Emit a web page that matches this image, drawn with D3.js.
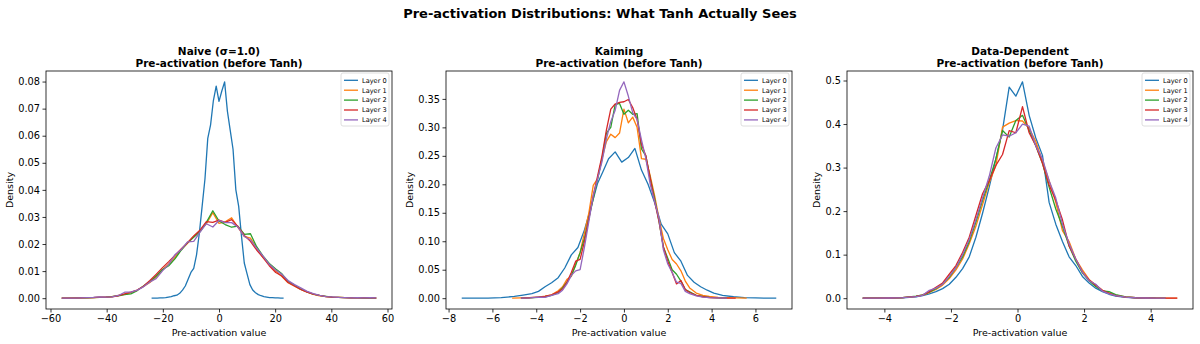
<!DOCTYPE html>
<html>
<head>
<meta charset="utf-8">
<script src="https://cdn.jsdelivr.net/npm/d3@7"></script>
<style>
body { margin: 0; background: #fff; }
text { font-family: "DejaVu Sans", sans-serif; }
</style>
</head>
<body>
<div id="chart"></div>
<script>
var layerNames = ["Layer 0", "Layer 1", "Layer 2", "Layer 3", "Layer 4"];
var layerColors = ["#1f77b4", "#ff7f0e", "#2ca02c", "#d62728", "#9467bd"];

// Naive (sigma=1.0): layer 0 is narrow, deeper layers spread out
var naiveX0 = [-24, -23, -22, -21, -20, -19, -18, -17, -16, -15, -14, -13, -12, -11, -10, -9, -8, -7, -6, -5, -4, -3, -2, -1,
  0, 1, 2, 3, 4, 5, 6, 7, 8, 9, 10, 11, 12, 13, 14, 15, 16, 17, 18, 19, 20, 21, 22, 23];
var naiveL0 = [0.0000, 0.0000, 0.0000, 0.0001, 0.0001, 0.0002, 0.0004, 0.0006, 0.0009, 0.0011, 0.0018, 0.0030, 0.0045, 0.0070, 0.0095, 0.0110, 0.0160, 0.0240, 0.0340, 0.0440, 0.0590, 0.0640, 0.0730, 0.0783,
  0.0727, 0.0765, 0.0799, 0.0690, 0.0620, 0.0550, 0.0400, 0.0340, 0.0230, 0.0130, 0.0090, 0.0050, 0.0030, 0.0020, 0.0013, 0.0009, 0.0006, 0.0004, 0.0002, 0.0002, 0.0001, 0.0001, 0.0000, 0.0000];
var naiveX = [-56, -53.8, -51.5, -49.3, -47, -44.8, -42.6, -40.3, -38.1, -35.8, -33.6, -31.4, -29.1, -26.9, -24.6, -22.4, -20.2, -17.9, -15.7, -13.4, -11.2, -9, -6.7, -4.5, -2.2,
  0, 2.2, 4.5, 6.7, 9, 11.2, 13.4, 15.7, 17.9, 20.2, 22.4, 24.6, 26.9, 29.1, 31.4, 33.6, 35.8, 38.1, 40.3, 42.6, 44.8, 47, 49.3, 51.5, 53.8, 56];
var naiveL1 = [0.0000, 0.0000, 0.0001, 0.0001, 0.0001, 0.0002, 0.0003, 0.0004, 0.0006, 0.0010, 0.0014, 0.0020, 0.0030, 0.0043, 0.0058, 0.0078, 0.0104, 0.0126, 0.0150, 0.0180, 0.0203, 0.0228, 0.0250, 0.0275, 0.0316,
  0.0276, 0.0282, 0.0297, 0.0262, 0.0228, 0.0222, 0.0185, 0.0150, 0.0125, 0.0100, 0.0080, 0.0057, 0.0044, 0.0032, 0.0022, 0.0014, 0.0009, 0.0006, 0.0004, 0.0003, 0.0002, 0.0001, 0.0001, 0.0001, 0.0000, 0.0000];
var naiveL2 = [0.0000, 0.0000, 0.0000, 0.0001, 0.0001, 0.0002, 0.0003, 0.0004, 0.0006, 0.0009, 0.0013, 0.0016, 0.0028, 0.0045, 0.0062, 0.0082, 0.0105, 0.0120, 0.0145, 0.0178, 0.0205, 0.0225, 0.0246, 0.0280, 0.0323,
  0.0285, 0.0272, 0.0262, 0.0266, 0.0236, 0.0238, 0.0190, 0.0155, 0.0128, 0.0108, 0.0090, 0.0062, 0.0048, 0.0033, 0.0023, 0.0015, 0.0010, 0.0007, 0.0004, 0.0003, 0.0002, 0.0001, 0.0001, 0.0000, 0.0001, 0.0000];
var naiveL3 = [0.0000, 0.0000, 0.0000, 0.0001, 0.0002, 0.0002, 0.0004, 0.0004, 0.0005, 0.0009, 0.0016, 0.0022, 0.0030, 0.0044, 0.0065, 0.0088, 0.0112, 0.0135, 0.0158, 0.0183, 0.0205, 0.0230, 0.0252, 0.0283, 0.0280,
  0.0288, 0.0280, 0.0290, 0.0265, 0.0232, 0.0210, 0.0178, 0.0150, 0.0120, 0.0095, 0.0082, 0.0058, 0.0045, 0.0032, 0.0022, 0.0015, 0.0010, 0.0006, 0.0004, 0.0003, 0.0002, 0.0001, 0.0001, 0.0001, 0.0002, 0.0000];
var naiveL4 = [0.0000, 0.0000, 0.0000, 0.0001, 0.0002, 0.0003, 0.0005, 0.0004, 0.0005, 0.0010, 0.0022, 0.0022, 0.0030, 0.0042, 0.0060, 0.0072, 0.0100, 0.0125, 0.0160, 0.0180, 0.0208, 0.0210, 0.0245, 0.0275, 0.0263,
  0.0287, 0.0279, 0.0279, 0.0263, 0.0228, 0.0215, 0.0185, 0.0155, 0.0125, 0.0104, 0.0088, 0.0065, 0.0050, 0.0038, 0.0025, 0.0017, 0.0010, 0.0006, 0.0005, 0.0003, 0.0002, 0.0001, 0.0002, 0.0001, 0.0002, 0.0001];

// Kaiming
var kaimingX0 = [-7.4, -6.8, -6.2, -5.6, -5.0, -4.6, -4.2, -3.9, -3.6, -3.3, -3.0, -2.7, -2.4, -2.1, -1.8, -1.5, -1.2, -0.95, -0.7, -0.4, -0.1,
  0.2, 0.5, 0.8, 1.1, 1.4, 1.7, 2.0, 2.3, 2.6, 2.9, 3.2, 3.5, 3.8, 4.1, 4.5, 5.0, 5.5, 6.0, 6.5, 6.95];
var kaimingL0 = [0.0000, 0.0001, 0.0002, 0.0010, 0.0030, 0.0055, 0.0080, 0.0120, 0.0200, 0.0270, 0.0360, 0.0530, 0.0760, 0.0890, 0.1200, 0.1600, 0.2020, 0.2230, 0.2450, 0.2570, 0.2390,
  0.2470, 0.2630, 0.2250, 0.2000, 0.1680, 0.1300, 0.1130, 0.0800, 0.0650, 0.0400, 0.0280, 0.0200, 0.0140, 0.0090, 0.0050, 0.0025, 0.0010, 0.0004, 0.0001, 0.0000];
var kaimingX = [-5.1, -4.7, -4.3, -3.9, -3.6, -3.3, -3.0, -2.8, -2.6, -2.4, -2.2, -2.0, -1.8, -1.6, -1.4, -1.2, -1.0, -0.8, -0.6, -0.4, -0.2,
  0.0, 0.2, 0.4, 0.6, 0.8, 1.0, 1.2, 1.4, 1.6, 1.8, 2.0, 2.2, 2.4, 2.6, 2.8, 3.0, 3.3, 3.6, 3.9, 4.3, 4.7, 5.1, 5.6];
var kaimingL1 = [0.0000, 0.0005, 0.0010, 0.0020, 0.0035, 0.0060, 0.0130, 0.0200, 0.0330, 0.0380, 0.0600, 0.0800, 0.1150, 0.1500, 0.1980, 0.2100, 0.2450, 0.2750, 0.2880, 0.2820, 0.2900,
  0.3320, 0.3080, 0.3180, 0.3000, 0.2450, 0.2440, 0.2150, 0.1800, 0.1400, 0.1050, 0.0850, 0.0680, 0.0600, 0.0480, 0.0300, 0.0180, 0.0090, 0.0050, 0.0030, 0.0015, 0.0008, 0.0004, 0.0000];
var kaimingL2 = [null, 0.0000, 0.0005, 0.0015, 0.0025, 0.0050, 0.0100, 0.0180, 0.0280, 0.0400, 0.0580, 0.0800, 0.1050, 0.1400, 0.1750, 0.2100, 0.2450, 0.2900, 0.3000, 0.3400, 0.3420,
  0.3230, 0.3300, 0.3230, 0.3240, 0.2620, 0.2500, 0.2100, 0.1750, 0.1350, 0.0900, 0.0700, 0.0500, 0.0420, 0.0300, 0.0150, 0.0110, 0.0050, 0.0030, 0.0015, 0.0005, 0.0000, null, null];
var kaimingL3 = [null, 0.0000, 0.0008, 0.0020, 0.0030, 0.0060, 0.0110, 0.0160, 0.0280, 0.0450, 0.0650, 0.0680, 0.1000, 0.1400, 0.1800, 0.2150, 0.2500, 0.2950, 0.3320, 0.3410, 0.3440,
  0.3450, 0.3490, 0.3350, 0.3140, 0.2700, 0.2500, 0.2100, 0.1700, 0.1350, 0.0900, 0.0650, 0.0450, 0.0250, 0.0310, 0.0150, 0.0100, 0.0050, 0.0025, 0.0012, 0.0005, 0.0002, 0.0000, null];
var kaimingL4 = [null, 0.0000, 0.0005, 0.0020, 0.0015, 0.0050, 0.0080, 0.0140, 0.0250, 0.0400, 0.0480, 0.0500, 0.0900, 0.1350, 0.1800, 0.2100, 0.2400, 0.2800, 0.3100, 0.3300, 0.3650,
  0.3800, 0.3550, 0.3260, 0.3140, 0.2780, 0.2450, 0.2000, 0.1700, 0.1400, 0.0850, 0.0600, 0.0450, 0.0280, 0.0260, 0.0120, 0.0080, 0.0040, 0.0020, 0.0010, 0.0004, 0.0001, null, null];

// Data-dependent
var dataDepX = [-4.65, -4.25, -3.85, -3.45, -3.05, -2.85, -2.65, -2.45, -2.25, -2.05, -1.85, -1.65, -1.45, -1.25, -1.05, -0.85, -0.65, -0.45, -0.25, -0.05,
  0.15, 0.35, 0.55, 0.75, 0.95, 1.15, 1.35, 1.55, 1.75, 1.95, 2.15, 2.35, 2.55, 2.75, 2.95, 3.25, 3.55, 3.85, 4.15, 4.45, 4.8];
var dataDepL0 = [0.0000, 0.0001, 0.0003, 0.0008, 0.0030, 0.0060, 0.0100, 0.0150, 0.0220, 0.0320, 0.0480, 0.0680, 0.0950, 0.1400, 0.1950, 0.2550, 0.3200, 0.3860, 0.4850, 0.4640,
  0.4970, 0.4200, 0.3680, 0.3280, 0.2200, 0.1700, 0.1300, 0.0950, 0.0750, 0.0500, 0.0350, 0.0230, 0.0150, 0.0090, 0.0050, 0.0020, 0.0008, 0.0003, 0.0000, null, null];
var dataDepL1 = [0.0000, 0.0002, 0.0005, 0.0015, 0.0040, 0.0070, 0.0130, 0.0200, 0.0300, 0.0450, 0.0650, 0.0900, 0.1250, 0.1650, 0.2150, 0.2650, 0.3050, 0.3930, 0.4020, 0.4080,
  0.4070, 0.3900, 0.3600, 0.3150, 0.2700, 0.2200, 0.1550, 0.1300, 0.0900, 0.0650, 0.0430, 0.0300, 0.0180, 0.0120, 0.0070, 0.0030, 0.0012, 0.0005, 0.0002, 0.0001, 0.0000];
var dataDepL2 = [0.0000, 0.0002, 0.0005, 0.0015, 0.0045, 0.0075, 0.0140, 0.0220, 0.0330, 0.0480, 0.0700, 0.0950, 0.1300, 0.1750, 0.2250, 0.2700, 0.3200, 0.3850, 0.3700, 0.4080,
  0.4200, 0.3850, 0.3500, 0.3100, 0.2550, 0.2050, 0.1650, 0.1200, 0.0850, 0.0580, 0.0400, 0.0270, 0.0170, 0.0150, 0.0080, 0.0030, 0.0010, 0.0004, 0.0001, 0.0000, null];
var dataDepL3 = [0.0000, 0.0001, 0.0004, 0.0012, 0.0040, 0.0070, 0.0150, 0.0250, 0.0350, 0.0550, 0.0750, 0.1050, 0.1400, 0.1900, 0.2400, 0.2700, 0.3050, 0.3300, 0.3850, 0.3800,
  0.4400, 0.3800, 0.3500, 0.3100, 0.2600, 0.2250, 0.1800, 0.1200, 0.0900, 0.0600, 0.0420, 0.0300, 0.0180, 0.0110, 0.0060, 0.0025, 0.0010, 0.0004, 0.0002, 0.0001, 0.0000];
var dataDepL4 = [0.0000, 0.0001, 0.0004, 0.0012, 0.0035, 0.0065, 0.0180, 0.0230, 0.0320, 0.0500, 0.0700, 0.1000, 0.1350, 0.1800, 0.2300, 0.2800, 0.3450, 0.3750, 0.3720, 0.3800,
  0.4000, 0.3950, 0.3500, 0.3200, 0.2700, 0.2300, 0.1700, 0.1250, 0.0900, 0.0600, 0.0400, 0.0320, 0.0160, 0.0100, 0.0060, 0.0025, 0.0010, 0.0004, 0.0001, 0.0000, null];

// tick values
var naiveXTicks = [-60, -40, -20, 0, 20, 40, 60];
var naiveYTicks = [0, 0.01, 0.02, 0.03, 0.04, 0.05, 0.06, 0.07, 0.08];
var kaimingXTicks = [-8, -6, -4, -2, 0, 2, 4, 6];
var kaimingYTicks = [0, 0.05, 0.10, 0.15, 0.20, 0.25, 0.30, 0.35];
var dataDepXTicks = [-4, -2, 0, 2, 4];
var dataDepYTicks = [0, 0.1, 0.2, 0.3, 0.4, 0.5];

var panels = [
  { title: ["Naive (σ=1.0)", "Pre-activation (before Tanh)"], xTicks: naiveXTicks, yTicks: naiveYTicks, yFmt: ".2f",
    series: [[naiveX0, naiveL0], [naiveX, naiveL1], [naiveX, naiveL2], [naiveX, naiveL3], [naiveX, naiveL4]] },
  { title: ["Kaiming", "Pre-activation (before Tanh)"], xTicks: kaimingXTicks, yTicks: kaimingYTicks, yFmt: ".2f",
    series: [[kaimingX0, kaimingL0], [kaimingX, kaimingL1], [kaimingX, kaimingL2], [kaimingX, kaimingL3], [kaimingX, kaimingL4]] },
  { title: ["Data-Dependent", "Pre-activation (before Tanh)"], xTicks: dataDepXTicks, yTicks: dataDepYTicks, yFmt: ".1f",
    series: [[dataDepX, dataDepL0], [dataDepX, dataDepL1], [dataDepX, dataDepL2], [dataDepX, dataDepL3], [dataDepX, dataDepL4]] }
];

var W = 1200, H = 344;
var axLeft = [46, 446, 847], axW = 346, axTop = 71, axH = 238;

var svg = d3.select("#chart").append("svg")
  .attr("width", W)
  .attr("height", H);

svg.append("text")
  .attr("x", W / 2)
  .attr("y", 18)
  .attr("text-anchor", "middle")
  .attr("font-size", 13)
  .attr("font-weight", "bold")
  .text("Pre-activation Distributions: What Tanh Actually Sees");

panels.forEach(function(p, i) {
  var g = svg.append("g")
    .attr("transform", "translate(" + axLeft[i] + "," + axTop + ")");

  // series as point lists, gaps where a layer has no bin
  var lines = p.series.map(function(s) {
    return s[0].map(function(xv, j) { return [xv, s[1][j]]; });
  });
  var pts = d3.merge(lines).filter(function(d) { return d[1] != null; });
  var xe = d3.extent(pts, function(d) { return d[0]; });
  var ye = d3.extent(pts, function(d) { return d[1]; });
  var xPad = (xe[1] - xe[0]) * 0.05, yPad = (ye[1] - ye[0]) * 0.05;

  var x = d3.scaleLinear().domain([xe[0] - xPad, xe[1] + xPad]).range([0, axW]);
  var y = d3.scaleLinear().domain([ye[0] - yPad, ye[1] + yPad]).range([axH, 0]);

  var xAxis = g.append("g")
    .attr("transform", "translate(0," + axH + ")")
    .call(d3.axisBottom(x).tickValues(p.xTicks).tickFormat(d3.format("d")).tickSize(3.5).tickPadding(2.5));
  var yAxis = g.append("g")
    .call(d3.axisLeft(y).tickValues(p.yTicks).tickFormat(d3.format(p.yFmt)).tickSize(3.5).tickPadding(2.5));
  [xAxis, yAxis].forEach(function(a) {
    a.select(".domain").remove();
    a.selectAll("line").attr("stroke", "#000").attr("stroke-width", 0.8);
    a.selectAll("text").attr("fill", "#000").attr("font-size", 9.8)
      .attr("font-family", "DejaVu Sans, sans-serif");
  });

  var line = d3.line()
    .defined(function(d) { return d[1] != null; })
    .x(function(d) { return x(d[0]); })
    .y(function(d) { return y(d[1]); });

  g.selectAll(".layer")
    .data(lines)
    .enter().append("path")
    .attr("class", "layer")
    .attr("d", line)
    .attr("fill", "none")
    .attr("stroke", function(d, k) { return layerColors[k]; })
    .attr("stroke-width", 1.3)
    .attr("stroke-linejoin", "round");

  // frame
  g.append("rect")
    .attr("width", axW)
    .attr("height", axH)
    .attr("fill", "none")
    .attr("stroke", "#000")
    .attr("stroke-width", 0.8);

  // titles
  g.append("text")
    .attr("x", axW / 2)
    .attr("y", -16)
    .attr("text-anchor", "middle")
    .attr("font-size", 10.5)
    .attr("font-weight", "bold")
    .text(p.title[0]);
  g.append("text")
    .attr("x", axW / 2)
    .attr("y", -4)
    .attr("text-anchor", "middle")
    .attr("font-size", 10.5)
    .attr("font-weight", "bold")
    .text(p.title[1]);

  g.append("text")
    .attr("x", axW / 2)
    .attr("y", axH + 27)
    .attr("text-anchor", "middle")
    .attr("font-size", 9.5)
    .text("Pre-activation value");

  var yb = yAxis.node().getBBox();
  g.append("text")
    .attr("transform", "translate(" + (yb.x - 5.5) + "," + (axH / 2) + ") rotate(-90)")
    .attr("text-anchor", "middle")
    .attr("font-size", 9.5)
    .text("Density");

  // legend
  var lg = g.append("g")
    .attr("transform", "translate(" + (axW - 51) + ",2)");
  lg.append("rect")
    .attr("width", 48)
    .attr("height", 53)
    .attr("rx", 2)
    .attr("fill", "#fff")
    .attr("fill-opacity", 0.8)
    .attr("stroke", "#d5d5d5")
    .attr("stroke-width", 0.8);
  var items = lg.selectAll(".item")
    .data(layerNames)
    .enter().append("g")
    .attr("class", "item")
    .attr("transform", function(d, k) { return "translate(0," + (7.3 + k * 9.9) + ")"; });
  items.append("line")
    .attr("x1", 3).attr("x2", 17)
    .attr("stroke", function(d, k) { return layerColors[k]; })
    .attr("stroke-width", 1.3);
  items.append("text")
    .attr("x", 21)
    .attr("dy", "0.35em")
    .attr("font-size", 6.6)
    .text(function(d) { return d; });
});
</script>
</body>
</html>
